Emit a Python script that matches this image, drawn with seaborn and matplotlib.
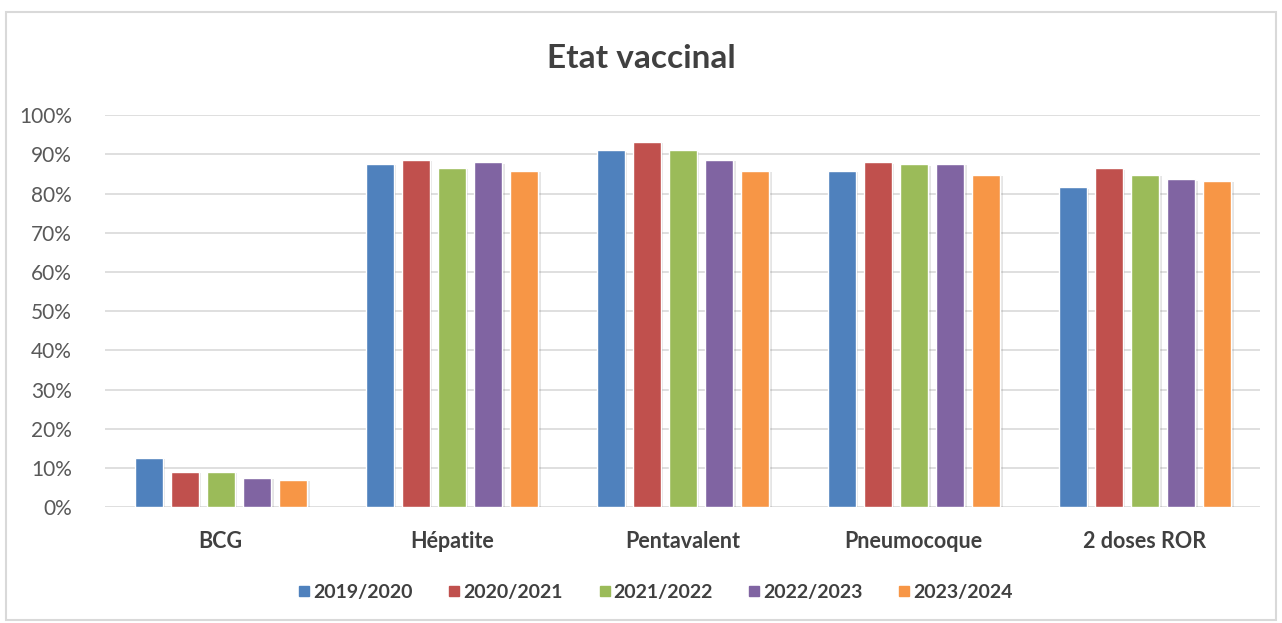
import matplotlib
matplotlib.use('Agg')
import matplotlib.pyplot as plt
import matplotlib.patheffects as pe
from matplotlib.patches import Rectangle
from matplotlib.ticker import PercentFormatter
import seaborn as sns
import pandas as pd

categories = ['BCG', 'Hépatite', 'Pentavalent', 'Pneumocoque', '2 doses ROR']
years = ['2019/2020', '2020/2021', '2021/2022', '2022/2023', '2023/2024']
v2019 = [12.6, 87.6, 91.1, 85.9, 81.6]
v2020 = [9.0, 88.6, 93.3, 88.0, 86.5]
v2021 = [9.0, 86.6, 91.1, 87.5, 84.8]
v2022 = [7.5, 88.0, 88.6, 87.6, 83.7]
v2023 = [6.9, 85.9, 85.8, 84.8, 83.2]
colors = ['#4F81BD', '#C0504D', '#9BBB59', '#8064A2', '#F79646']

rows = []
for year, vals in zip(years, [v2019, v2020, v2021, v2022, v2023]):
    for cat, v in zip(categories, vals):
        rows.append({'cat': cat, 'year': year, 'val': v / 100})
df = pd.DataFrame(rows)

sns.set_style('white')
plt.rcParams['font.family'] = ['Lato', 'DejaVu Sans']

fig = plt.figure(figsize=(12.82, 6.23), dpi=100)
ax = fig.add_axes([0.082, 0.186, 0.901, 0.629])

sns.barplot(data=df, x='cat', y='val', hue='year', order=categories,
            hue_order=years, palette=colors, width=0.78, gap=0.22,
            saturation=1, ax=ax, legend=False)

# ombre légère à droite des barres
for p in ax.patches:
    p.set_path_effects([pe.SimplePatchShadow(offset=(2, -1), alpha=0.18, shadow_rgbFace='#707070'),
                        pe.Normal()])

ax.set_ylim(0, 1)
ax.set_yticks([i / 10 for i in range(11)])
ax.yaxis.set_major_formatter(PercentFormatter(1.0, decimals=0))
ax.grid(axis='y', color='#D9D9D9', linewidth=1.2)
ax.set_axisbelow(True)
for s in ax.spines.values():
    s.set_visible(False)
ax.set_xlabel('')
ax.set_ylabel('')
ax.tick_params(axis='y', labelsize=15, labelcolor='#595959', length=0, pad=24)
ax.tick_params(axis='x', labelsize=15.5, labelcolor='#404040', length=0, pad=17)
for t in ax.get_xticklabels():
    t.set_fontweight('bold')

fig.text(0.5, 0.906, 'Etat vaccinal', ha='center', va='center',
         fontsize=24, fontweight='bold', color='#404040')

handles = [plt.Line2D([], [], marker='s', linestyle='', markersize=7,
                      color=c) for c in colors]
leg = fig.legend(handles, years, loc='center', bbox_to_anchor=(0.511, 0.049),
                 ncol=5, frameon=False, handletextpad=0.1, handlelength=0.7,
                 columnspacing=1.8, prop={'size': 14, 'weight': 'bold'})
for t in leg.get_texts():
    t.set_color('#404040')

fig.patches.append(Rectangle((0.005, 0.005), 0.99, 0.975, transform=fig.transFigure,
                             fill=False, edgecolor='#D9D9D9', linewidth=1.5))

fig.savefig('out.png', dpi=100)
